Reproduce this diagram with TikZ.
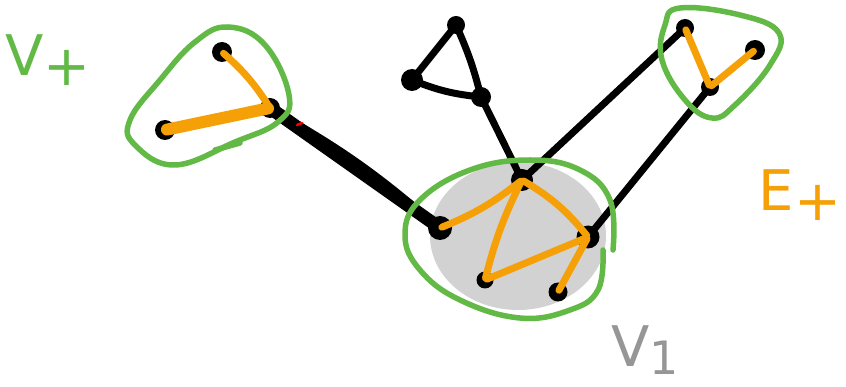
\documentclass[tikz,border=0pt]{standalone}
\usepackage{fontspec}
\setmainfont{DejaVu Sans}
\begin{document}
\begin{tikzpicture}[x=1pt,y=-1pt,line cap=round,line join=round,
  vtx/.style={circle,fill=black,inner sep=0pt,minimum size=20pt},
  bedge/.style={draw=black,line width=7pt},
  oedge/.style={draw=og,line width=7pt,shorten <=2pt,shorten >=2pt},
  gline/.style={draw=gr,line width=5.5pt},
  lbl/.style={inner sep=0pt}]
\useasboundingbox (0,0) rectangle (846,387);
\definecolor{gr}{RGB}{98,185,70}
\definecolor{og}{RGB}{246,160,8}
\definecolor{gy}{RGB}{150,150,150}
% gray fill
\fill[gray!35] (518,236) ellipse [x radius=88, y radius=74];
% positions
\coordinate (a) at (222,52);
\coordinate (b) at (165,130);
\coordinate (c) at (270,108);
\coordinate (d) at (456,25);
\coordinate (e) at (412,80);
\coordinate (f) at (481,97);
\coordinate (g) at (522,180);
\coordinate (h) at (440,228);
\coordinate (i) at (588,237);
\coordinate (j) at (485,280);
\coordinate (k) at (558,292);
\coordinate (l) at (685,28);
\coordinate (m) at (755,50);
\coordinate (n) at (710,87);
% black edges
\draw[bedge] (d) -- (e);
\draw[bedge] (e) to[bend right=8] (f);
\draw[bedge] (d) to[bend left=5] (f);
\draw[bedge] (f) -- (g);
\draw[bedge] (l) -- (g);
\draw[bedge] (n) -- (i);
\draw[draw=black,line width=13pt] (c) -- (h);
\draw[draw=black,line width=6pt] (c) to[bend left=6] (h);
\draw[red,line width=2.5pt] (297,125) -- (302,123);
% vertices
\node[vtx] (va) at (a) {};
\node[vtx] (vb) at (b) {};
\node[vtx] (vc) at (c) {};
\node[vtx,minimum size=18pt] (vd) at (d) {};
\node[vtx,minimum size=22pt] (ve) at (e) {};
\node[vtx] (vf) at (f) {};
\node[vtx,minimum size=22pt] (vg) at (g) {};
\node[vtx,minimum size=24pt] (vh) at (h) {};
\node[vtx,minimum size=23pt] (vi) at (i) {};
\node[vtx,minimum size=17pt] (vj) at (j) {};
\node[vtx,minimum size=19pt] (vk) at (k) {};
\node[vtx,minimum size=18pt] (vl) at (l) {};
\node[vtx] (vm) at (m) {};
\node[vtx,minimum size=18pt] (vn) at (n) {};
% orange edges
\draw[oedge] (a) to[bend left=8] (c);
\draw[oedge,line width=12pt] (b) -- (c);
\draw[oedge] (h) to[bend right=8] (g);
\draw[oedge] (g) to[bend right=6] (j);
\draw[oedge] (g) to[bend left=10] (i);
\draw[oedge] (j) -- (i);
\draw[oedge] (i) -- (k);
\draw[oedge] (l) -- (n);
\draw[oedge] (n) -- (m);
% green blobs
\draw[gline] plot[smooth cycle,tension=0.7] coordinates {(228,27) (265,45) (289,95) (278,122) (235,142) (175,165) (135,145) (130,120) (160,80) (195,42)};
\draw[gline] (215,150) -- (240,143);
\draw[gline] plot[smooth cycle,tension=0.7] coordinates {(680,8) (740,15) (779,33) (770,65) (735,105) (712,118) (685,100) (662,60) (665,25)};
\draw[gline] plot[smooth,tension=0.7] coordinates {(613,250) (610,200) (580,170) (530,160) (470,170) (420,200) (405,235) (420,270) (460,300) (520,318) (570,310) (598,290) (603,250)};
% labels
\node[lbl,text=gr,font=\fontsize{56}{56}\selectfont] (vp) at (48,60) {V\raisebox{-0.3ex}{+}};
\node[lbl,text=og,font=\fontsize{56}{56}\selectfont] (ep) at (800,195) {E\raisebox{-0.3ex}{+}};
\node[lbl,text=gy,font=\fontsize{56}{56}\selectfont] (v1) at (645,350) {V\raisebox{-0.25ex}{\fontsize{46}{46}\selectfont 1}};
\end{tikzpicture}
\end{document}
